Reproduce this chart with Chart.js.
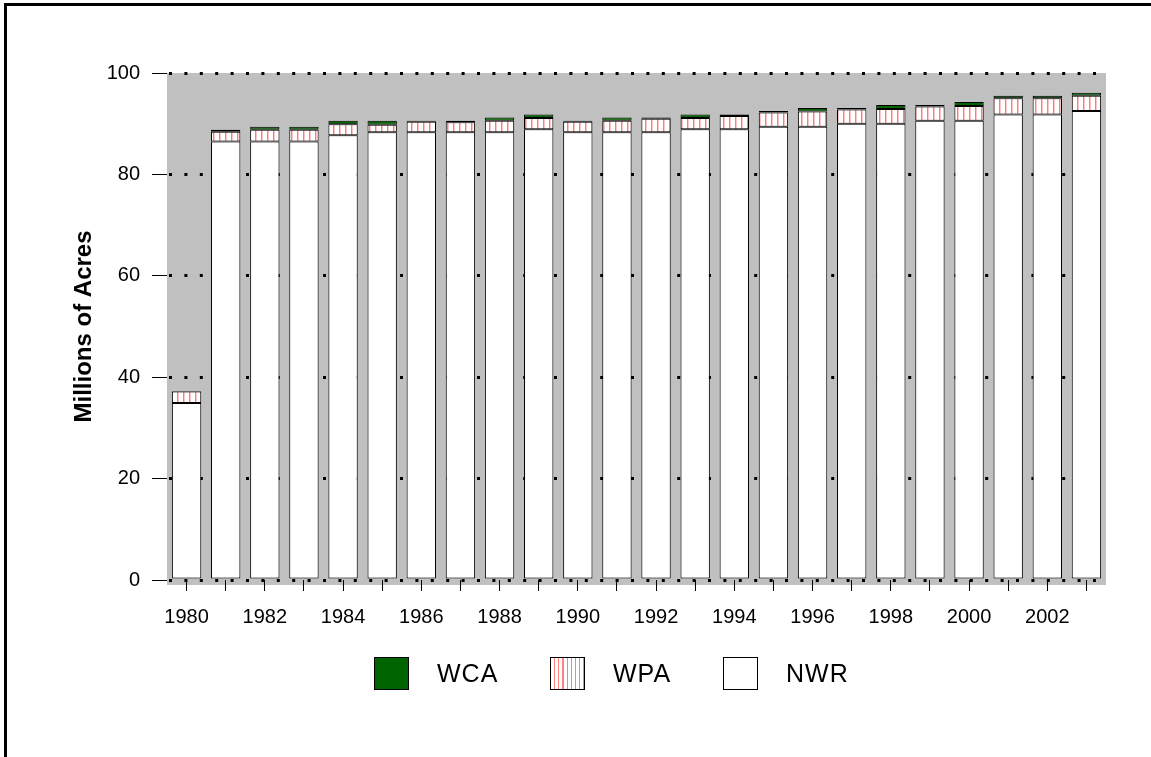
<!DOCTYPE html>
<html>
<head>
<meta charset="utf-8">
<script src="https://cdn.jsdelivr.net/npm/chart.js@4"></script>
<style>
    body { margin: 0; background: #fff; }
    #wrap { position: relative; width: 1151px; height: 757px; overflow: hidden; background: #fff; }
    #frame { position: absolute; left: 4px; top: 3px; width: 1200px; height: 800px; border: 3px solid #000; box-sizing: border-box; }
    #chart { position: absolute; left: 0; top: 0; }
    .legend-item { position: absolute; top: 657px; height: 33px; font-family: "Liberation Sans", Arial, sans-serif; font-size: 25px; color: #000; }
    .swatch { position: absolute; left: 0; top: 0; width: 33px; height: 31px; border: 1px solid #000; }
    .legend-item span.label { position: absolute; left: 63px; top: 2px; white-space: nowrap; letter-spacing: 1px; }
</style>
</head>
<body>
<div id="wrap">
    <div id="frame"></div>
    <canvas id="chart" width="1151" height="757"></canvas>
    <div class="legend-item" style="left:374px"><div class="swatch" style="background:#006400"></div><span class="label">WCA</span></div>
    <div class="legend-item" style="left:550px"><div class="swatch" style="background:repeating-linear-gradient(90deg,#fff 0px,#fff 3px,#ff8080 3px,#ff8080 4.2px)"></div><span class="label">WPA</span></div>
    <div class="legend-item" style="left:723px"><div class="swatch" style="background:#fff"></div><span class="label">NWR</span></div>
</div>
<script>
// Data (millions of acres)
const years = ['1980', '1981', '1982', '1983', '1984', '1985', '1986', '1987', '1988', '1989', '1990', '1991',
               '1992', '1993', '1994', '1995', '1996', '1997', '1998', '1999', '2000', '2001', '2002', '2003'];
const nwrValues = [34.9, 86.5, 86.5, 86.5, 87.7, 88.3, 88.3, 88.3, 88.3, 88.9, 88.3, 88.3,
                   88.3, 88.9, 88.9, 89.4, 89.4, 90.0, 90.0, 90.6, 90.6, 91.8, 91.8, 92.5];
const wpaValues = [2.3, 1.9, 2.3, 2.3, 2.2, 1.5, 2.1, 2.0, 2.3, 2.2, 2.1, 2.3,
                   2.7, 2.2, 2.6, 2.8, 3.0, 2.8, 2.9, 2.8, 2.9, 3.2, 3.2, 3.0];
const wcaValues = [0.1, 0.4, 0.6, 0.6, 0.7, 0.8, 0.2, 0.3, 0.6, 0.7, 0.2, 0.6,
                   0.2, 0.7, 0.3, 0.3, 0.7, 0.3, 0.8, 0.3, 0.8, 0.5, 0.5, 0.6];
const yTicks = [0, 20, 40, 60, 80, 100];

const FONT = '"Liberation Sans", Arial, sans-serif';

/**
 * Vertical red stripes on white, for the WPA segments
 */
function makeStripes() {
    const c = document.createElement('canvas');
    c.width = 6;
    c.height = 4;
    const g = c.getContext('2d');
    g.fillStyle = '#fff';
    g.fillRect(0, 0, 6, 4);
    g.fillStyle = '#ff7a7a';
    g.fillRect(3, 0, 1, 4);
    g.fillStyle = '#ffc4c4';
    g.fillRect(4, 0, 1, 4);
    return g.createPattern(c, 'repeat');
}

// Gray plot background
const plotBackground = {
    id: 'plotBackground',
    beforeDraw(chart) {
        const { ctx, chartArea } = chart;
        ctx.save();
        ctx.fillStyle = '#c0c0c0';
        ctx.fillRect(chartArea.left, chartArea.top, chartArea.right - chartArea.left, chartArea.bottom - chartArea.top + 5);
        ctx.restore();
    }
};

const ctx = document.getElementById('chart');
new Chart(ctx, {
    type: 'bar',
    data: {
        labels: years,
        datasets: [
            {
                label: 'NWR',
                data: nwrValues,
                backgroundColor: '#ffffff',
                borderColor: '#000',
                borderWidth: 1,
                borderSkipped: false
            },
            {
                label: 'WPA',
                data: wpaValues,
                backgroundColor: makeStripes(),
                borderColor: '#000',
                borderWidth: 1,
                borderSkipped: false
            },
            {
                label: 'WCA',
                data: wcaValues,
                backgroundColor: '#006400',
                borderColor: '#000',
                borderWidth: 1,
                borderSkipped: false
            }
        ]
    },
    options: {
        responsive: false,
        animation: false,
        layout: { padding: { left: 0, right: 45, top: 73, bottom: 0 } },
        datasets: { bar: { categoryPercentage: 1, barPercentage: 0.75 } },
        plugins: {
            legend: { display: false },
            tooltip: { enabled: false }
        },
        scales: {
            x: {
                stacked: true,
                afterFit: (s) => { s.height = 177; },
                border: { display: false },
                grid: {
                    offset: false,
                    drawOnChartArea: false,
                    drawTicks: true,
                    tickLength: 11,
                    tickColor: '#000',
                    tickWidth: 1
                },
                ticks: {
                    autoSkip: false,
                    maxRotation: 0,
                    padding: 14,
                    color: '#000',
                    font: { family: FONT, size: 20 },
                    callback: (v, i) => (i % 2 === 0 ? years[i] : '')
                }
            },
            y: {
                stacked: true,
                min: 0,
                max: 100,
                afterFit: (s) => { s.width = 167; },
                afterBuildTicks: (s) => { s.ticks = yTicks.map(v => ({ value: v })); },
                border: { display: false, dash: [3, 12.4], dashOffset: -2 },
                grid: {
                    color: '#000',
                    lineWidth: 3,
                    drawTicks: true,
                    tickLength: 15,
                    tickColor: '#000',
                    tickWidth: 1,
                    tickBorderDash: []
                },
                ticks: {
                    padding: 12,
                    color: '#000',
                    font: { family: FONT, size: 20 }
                },
                title: {
                    display: true,
                    text: 'Millions of Acres',
                    color: '#000',
                    font: { family: FONT, size: 24, weight: 'bold' },
                    padding: { top: 70, bottom: 0 }
                }
            }
        }
    },
    plugins: [plotBackground]
});
</script>
</body>
</html>
